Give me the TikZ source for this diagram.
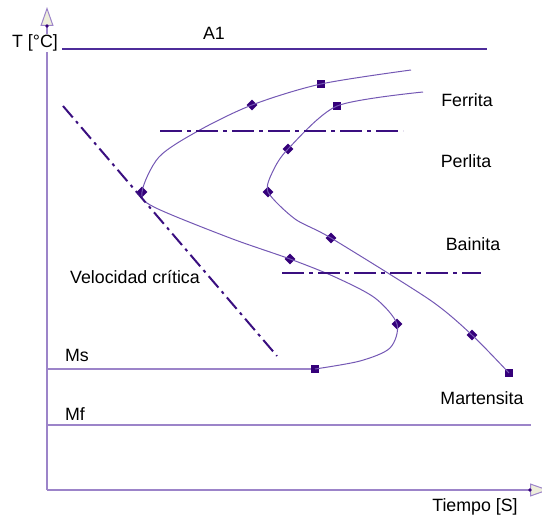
\documentclass[tikz,border=0pt]{standalone}
\usepackage{fontspec}
\setmainfont{Liberation Sans}
\usetikzlibrary{arrows.meta,shapes.geometric}
\definecolor{axisc}{HTML}{9C84C9}
\definecolor{curvec}{HTML}{7458B4}
\definecolor{markc}{HTML}{35007A}
\definecolor{dashc}{HTML}{3A0F80}
\definecolor{topc}{HTML}{4D2C9A}
\definecolor{tipc}{HTML}{EEEEDC}
\tikzset{
  axis/.style={draw=axisc,line width=1.4pt},
  curve/.style={draw=curvec,line width=1pt},
  limit/.style={draw=dashc,line width=2pt,dash pattern=on 22pt off 5pt on 4pt off 5pt},
  sq/.style={rectangle,fill=markc,minimum size=8.5pt,inner sep=0pt},
  dia/.style={diamond,fill=markc,minimum size=11pt,inner sep=0pt},
  lbl/.style={font=\fontsize{17.8}{20}\selectfont,text=black,inner sep=1pt},
  tip/.style={-{Triangle[width=13pt,length=19pt,fill=tipc,color=axisc,line width=1pt]}}
}

\begin{document}
\begin{tikzpicture}[x=1pt,y=-1pt]
  \useasboundingbox (0,0) rectangle (542,519);
  \coordinate (O) at (47,490);
  \coordinate (ytop) at (47,7);
  \coordinate (xend) at (549,490);
  \draw[axis,tip] (O) -- (ytop);
  \draw[axis,tip] (O) -- (xend);
  \fill[markc] (47,26) circle (1.8) (530,490) circle (1.8);
  \node[lbl,fill=white] (T) at (35,43) {T [°C]};
  \node[lbl] (tiempo) at (475,507) {Tiempo [S]};
  % critical temperatures
  \coordinate (a1l) at (62,49);
  \coordinate (a1r) at (487,49);
  \draw[topc,line width=1.3pt] (a1l) -- (a1r);
  \node[lbl] (A1) at (214,33) {A1};
  \coordinate (msl) at (47,369);
  \coordinate (mfl) at (47,425);
  \coordinate (mfr) at (531,425);
  \node[lbl] (Ms) at (77,355) {Ms};
  \node[lbl] (Mf) at (75,414) {Mf};
  \draw[axis,line width=1.2pt] (mfl) -- (mfr);
  % start curve
  \node[sq] (s1) at (321,84) {};
  \node[dia] (d1) at (252,105) {};
  \node[dia] (d2) at (142,192) {};
  \node[dia] (d3) at (290,259) {};
  \node[dia] (d4) at (397,324) {};
  \node[sq] (s2) at (315,369) {};
  \coordinate (c1) at (411,70);
  \draw[curve] plot[smooth,tension=0.5] coordinates {(c1) (s1) (d1) (198,131) (159,157) (d2) (154,207) (230,238) (d3) (335,277) (375,298) (d4) (390,348) (360,361) (s2)};
  \draw[axis,line width=1.2pt] (msl) -- (s2);
  % end curve
  \node[sq] (s3) at (337,106) {};
  \node[dia] (d5) at (288,149) {};
  \node[dia] (d6) at (268,192) {};
  \node[dia] (d7) at (331,238) {};
  \node[dia] (d8) at (472,335) {};
  \node[sq] (s4) at (509,373) {};
  \coordinate (c2) at (423,92);
  \draw[curve] plot[smooth,tension=0.45] coordinates {(c2) (s3) (d5) (273,171) (d6) (295,219) (d7) (430,300) (d8) (s4)};
  % transformation limits
  \coordinate (p1) at (160,131);
  \coordinate (p2) at (403,131);
  \coordinate (b1) at (282,273);
  \coordinate (b2) at (481,273);
  \coordinate (v1) at (63,106);
  \coordinate (v2) at (277,356);
  \draw[limit] (p1) -- (p2);
  \draw[limit] (b1) -- (b2);
  \draw[limit,dash pattern=on 15pt off 5pt on 3pt off 5pt] (v1) -- (v2);
  \node[lbl] (fer) at (467,100) {Ferrita};
  \node[lbl] (per) at (466,161) {Perlita};
  \node[lbl] (bai) at (473,244) {Bainita};
  \node[lbl] (vel) at (135,277) {Velocidad crítica};
  \node[lbl] (mar) at (482,398) {Martensita};
\end{tikzpicture}
\end{document}
